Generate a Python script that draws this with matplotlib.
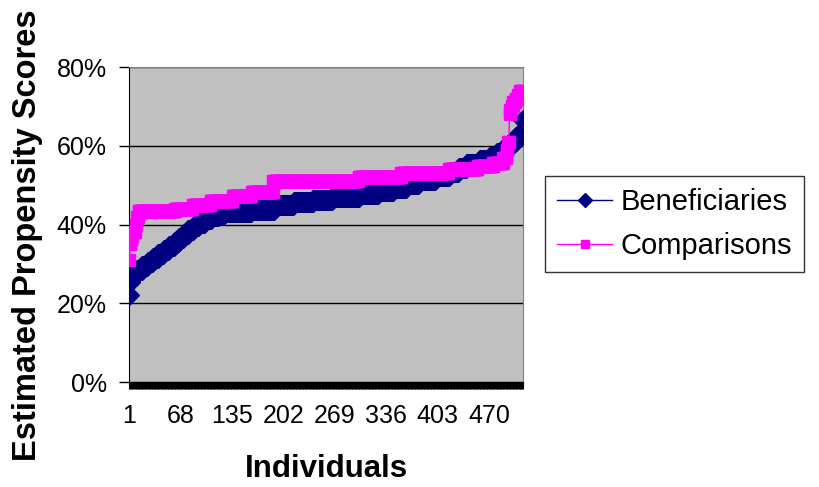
import numpy as np
import matplotlib.pyplot as plt
from matplotlib.ticker import FixedLocator, FuncFormatter

plt.rcParams['font.family'] = ['Liberation Sans', 'DejaVu Sans']

# Sorted propensity scores (%) (value, count)
ben_values = [22, 25.5, 26.5, 27.5, 28.5, 29.5, 30.5, 31.5, 32.5, 33.5, 34.5,
              35.5, 36.5, 37.5, 38.5, 39.5, 40.5, 41.3, 42.1, 42.7, 43.2, 43.8,
              45, 45.7, 46.3, 47, 47.7, 48.5, 49.3, 50.3, 51.3, 52.3, 53.3,
              54.3, 55.3, 56.3, 57.2, 58.2, 59.3, 60.3, 61.2, 62.2, 63.2,
              63.5, 66.5]
ben_counts = [1, 1, 3, 5, 7, 7, 7, 7, 7, 7, 7,
              6, 6, 6, 7, 7, 8, 8, 9, 9, 35, 30,
              25, 25, 25, 35, 25, 20, 17, 16, 22, 18, 12,
              10, 17, 13, 10, 8, 6, 6, 5, 5, 2,
              1, 1]

comp_values = [31, 35, 36, 37, 38, 40, 42, 43.5, 44, 45, 46, 47.3, 48.2, 51,
               52, 53, 54, 54.8, 55.5, 57, 59, 61,
               68, 69, 70, 71, 72, 73, 74]
comp_counts = [1, 1, 1, 2, 3, 2, 2, 48, 23, 23, 29, 25, 28, 111,
               56, 62, 38, 20, 13, 4, 2, 2,
               1, 2, 2, 3, 3, 3, 4]

beneficiaries = np.repeat(ben_values, ben_counts) / 100.0
comparisons = np.repeat(comp_values, comp_counts) / 100.0
n = len(beneficiaries)
individuals = np.arange(1, n + 1)

tick_labels = list(range(1, n + 1, 67))
y_ticks = [0, 0.2, 0.4, 0.6, 0.8]

fig = plt.figure(figsize=(8.2, 4.87), dpi=100)
ax = fig.add_axes([0.1573, 0.2156, 0.4805, 0.6468])
ax.set_facecolor('#C0C0C0')

ax.plot(individuals, beneficiaries, color='#000080', marker='D', markersize=10,
        linewidth=1, label='Beneficiaries', zorder=3)
ax.plot(individuals, comparisons, color='#FF00FF', marker='s', markersize=9,
        linewidth=1, label='Comparisons', zorder=4)

ax.set_xlim(0.5, n + 0.5)
ax.set_ylim(0, 0.8)
ax.set_yticks(y_ticks)
ax.yaxis.set_major_formatter(FuncFormatter(lambda v, p: f'{v*100:.0f}%'))
ax.xaxis.set_major_locator(FixedLocator(tick_labels))
ax.xaxis.set_minor_locator(FixedLocator(individuals))
ax.set_xticklabels([str(t) for t in tick_labels])
ax.grid(axis='y', color='black', linewidth=1)
ax.set_axisbelow(True)

ax.tick_params(axis='y', direction='out', length=7, width=1, labelsize=18, pad=9)
ax.tick_params(axis='x', which='both', direction='out', length=5, width=0.8,
               labelsize=18, pad=11)
ax.tick_params(axis='x', which='minor', length=5)

for s in ['top', 'right']:
    ax.spines[s].set_color('#808080')
ax.spines['left'].set_color('black')
ax.spines['bottom'].set_color('black')

ax.set_ylabel('Estimated Propensity Scores', fontsize=23.5, fontweight='bold')
ax.yaxis.set_label_coords(-0.218, 0.467)
ax.set_xlabel('Individuals', fontsize=22.5, fontweight='bold')
ax.xaxis.set_label_coords(0.5, -0.23)

leg = ax.legend(loc='center left', bbox_to_anchor=(0.665, 0.54),
                bbox_transform=fig.transFigure, fontsize=21,
                frameon=True, fancybox=False, edgecolor='black',
                handlelength=1.9, borderpad=0.4, labelspacing=0.55,
                handletextpad=0.28, borderaxespad=0, markerscale=0.7)
leg.get_frame().set_linewidth(1)

fig.savefig('out.png', dpi=100)
